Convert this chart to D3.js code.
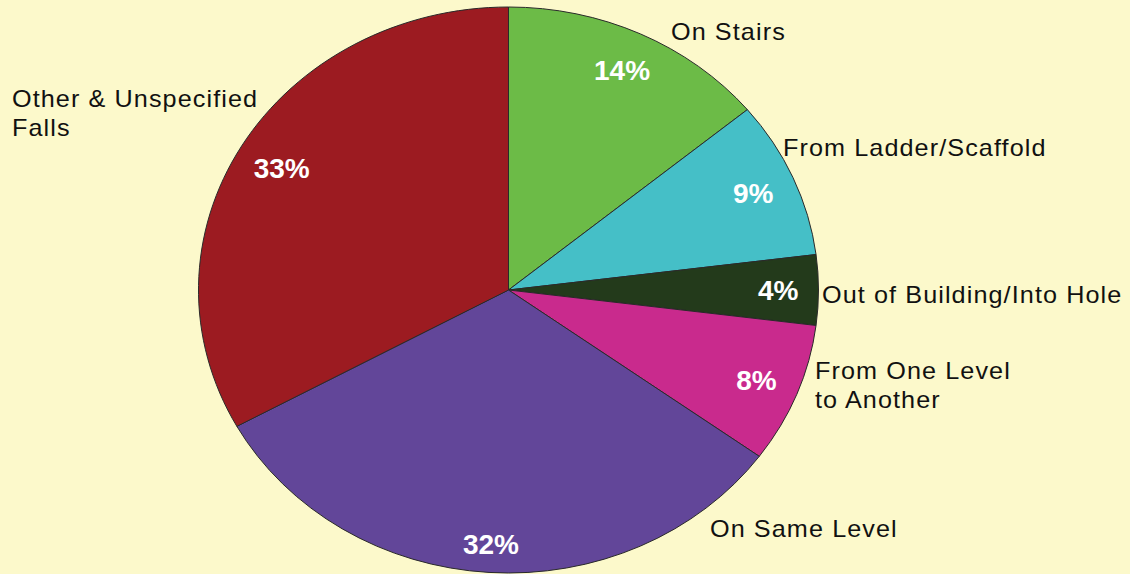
<!DOCTYPE html>
<html>
<head>
<meta charset="utf-8">
<script src="https://cdn.jsdelivr.net/npm/d3@7/dist/d3.min.js"></script>
<style>
  html, body { margin: 0; padding: 0; background: #fcf9cb; }
  svg { display: block; }
</style>
</head>
<body>
<svg id="chart" width="1130" height="574"></svg>
<script>
// Falls by type, share of total (%), clockwise from 12 o'clock
const categories = ["On Stairs", "From Ladder/Scaffold", "Out of Building/Into Hole",
                    "From One Level\nto Another", "On Same Level", "Other & Unspecified\nFalls"];
const values = [14, 9, 4, 8, 32, 33];
const valueLabels = ["14%", "9%", "4%", "8%", "32%", "33%"];

// Styling and label layout
const colors = ["#6cbb47", "#45bfc7", "#233a1b", "#c92a8d", "#624699", "#9c1b21"];
const pctRadius = [0.86, 0.86, 0.87, 0.86, 0.9, 0.85];
const nameAnchor = [[671, 39.5], [783, 156], [822, 303], [815, 378.5], [710, 536.5], [12, 106.5]];

const W = 1130, H = 574;
const cx = 508.5, cy = 290;
const ry = 283, rx = 310;
const sx = rx / ry;

const svg = d3.select("#chart");
svg.append("rect").attr("width", W).attr("height", H).attr("fill", "#fcf9cb");

const pie = d3.pie().sort(null).value(d => d)(values);
const arc = d3.arc().innerRadius(0).outerRadius(ry);

const g = svg.append("g").attr("transform", `translate(${cx},${cy}) scale(${sx},1)`);
g.selectAll("path")
  .data(pie)
  .join("path")
  .attr("d", arc)
  .attr("fill", (d, i) => colors[i])
  .attr("stroke", "#2a2a2a")
  .attr("stroke-width", 1)
  .attr("vector-effect", "non-scaling-stroke");

// Percent labels inside slices
svg.selectAll("text.pct")
  .data(pie)
  .join("text")
  .attr("class", "pct")
  .attr("transform", (d, i) => {
    const a = (d.startAngle + d.endAngle) / 2;
    const r = pctRadius[i] * ry;
    const x = cx + Math.sin(a) * r * sx;
    const y = cy - Math.cos(a) * r;
    return `translate(${x},${y + 10})`;
  })
  .attr("text-anchor", "middle")
  .attr("font-family", "'Liberation Sans', Arial, sans-serif")
  .attr("font-size", 28)
  .attr("font-weight", "bold")
  .attr("fill", "#ffffff")
  .text((d, i) => valueLabels[i]);

// Category names outside the pie
const names = svg.selectAll("text.name")
  .data(categories)
  .join("text")
  .attr("class", "name")
  .attr("transform", (d, i) => `translate(${nameAnchor[i][0]},${nameAnchor[i][1]}) scale(${sx},1)`)
  .attr("font-family", "'Liberation Sans', Arial, sans-serif")
  .attr("font-size", 23)
  .attr("letter-spacing", 1)
  .attr("fill", "#111111");

names.each(function(d) {
  const lines = d.split("\n");
  d3.select(this).selectAll("tspan")
    .data(lines)
    .join("tspan")
    .attr("x", 0)
    .attr("dy", (l, j) => j === 0 ? 0 : 29.3)
    .text(l => l);
});
</script>
</body>
</html>
